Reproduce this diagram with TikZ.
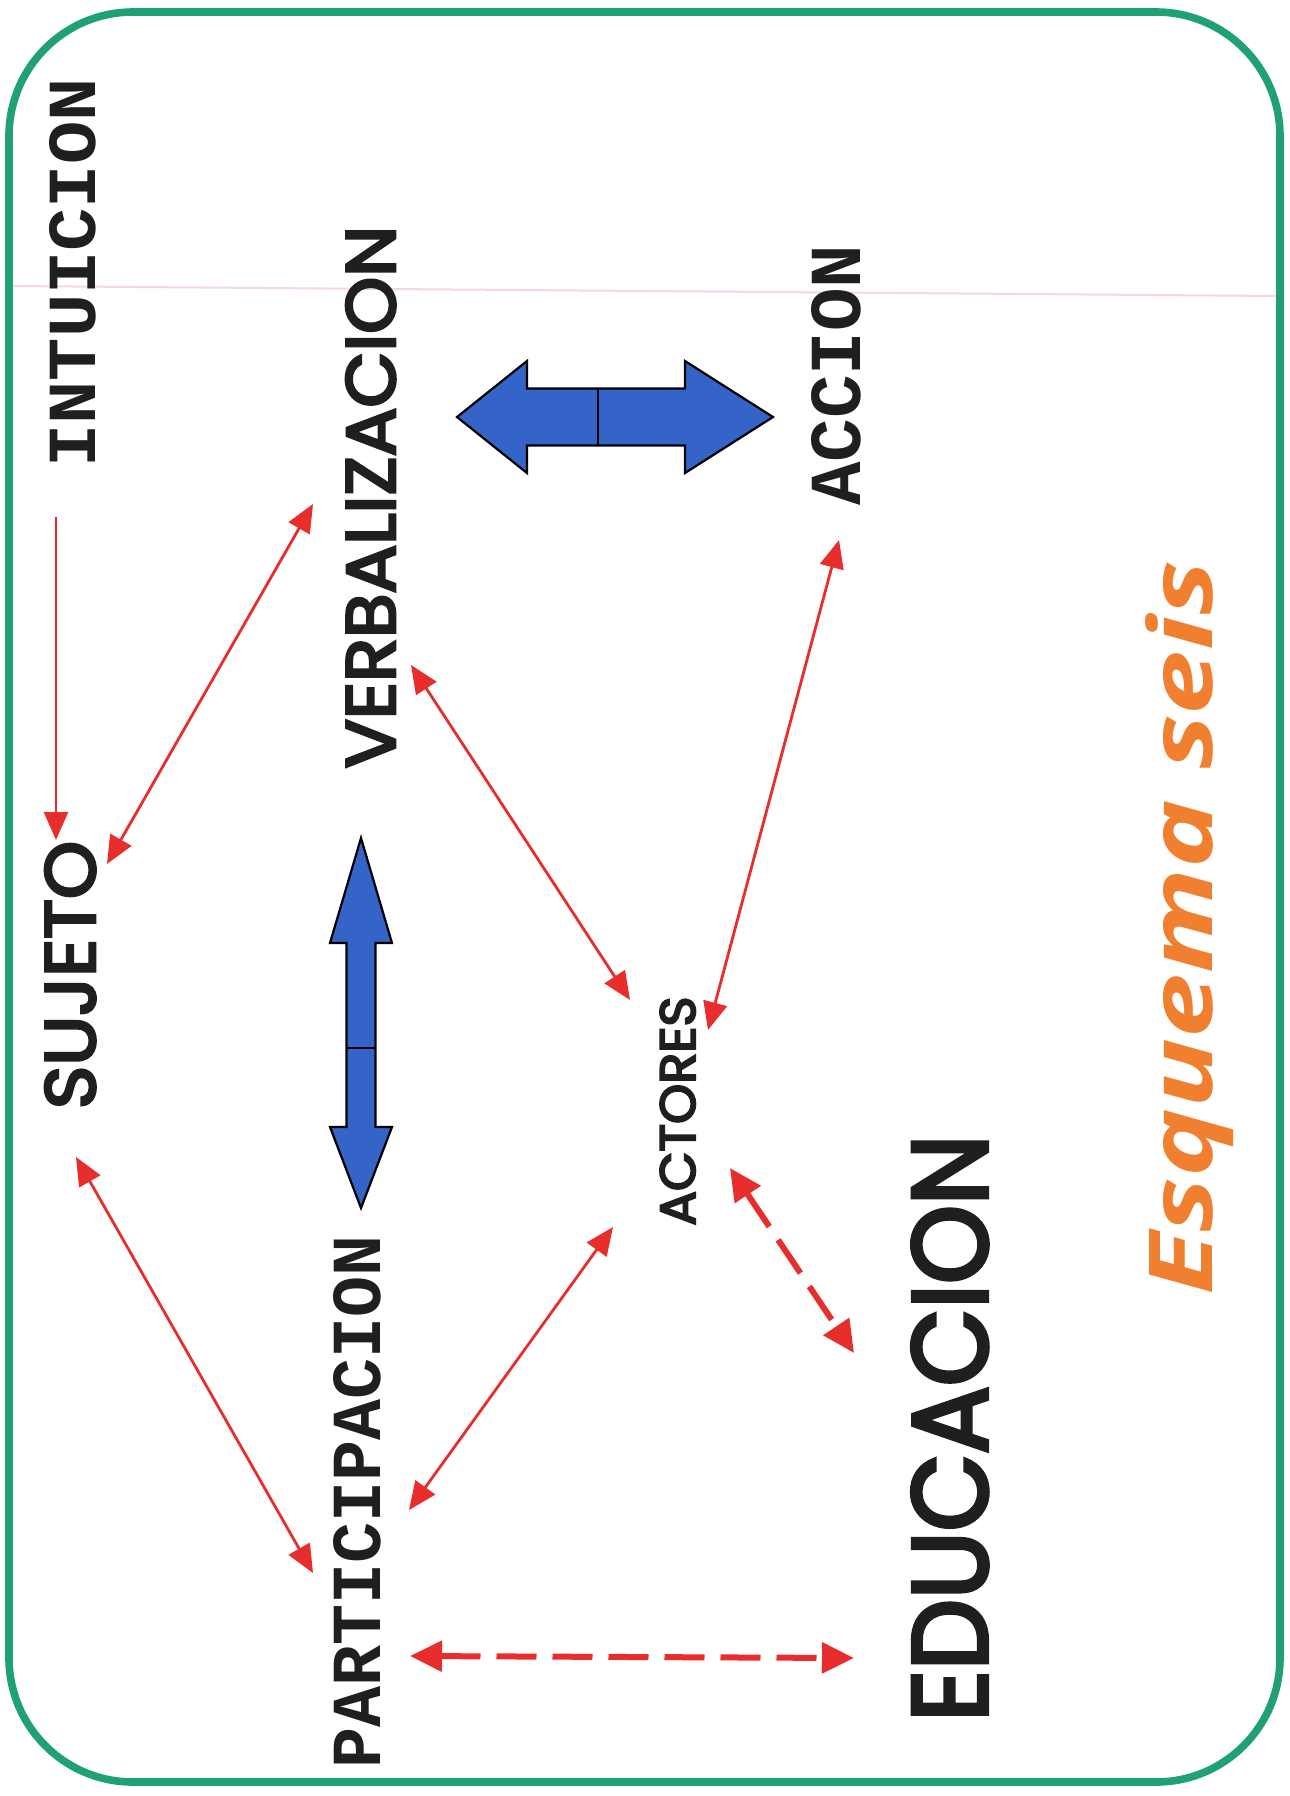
\documentclass[tikz,border=0pt]{standalone}
\usepackage{fontspec}
\usepackage{graphicx}
\usetikzlibrary{arrows.meta}
\newfontfamily\monofam{Liberation Mono}
\newfontfamily\gothfam{Poppins}[FakeBold=4]
\newfontfamily\titlefam{Open Sans}
\definecolor{frame}{RGB}{32,160,118}
\definecolor{redline}{RGB}{232,45,45}
\definecolor{bluearrow}{RGB}{52,100,200}
\definecolor{orangetxt}{RGB}{240,128,48}
\definecolor{scanpink}{RGB}{245,215,222}
\tikzset{
  lbl/.style={rotate=90,anchor=base,inner sep=0pt,text=black!88},
  rel/.style={draw=redline,line width=1.4pt,-{Triangle[length=14pt,width=12pt]}},
  relboth/.style={draw=redline,line width=1.4pt,{Triangle[length=14pt,width=12pt]}-{Triangle[length=14pt,width=12pt]}},
  reldash/.style={draw=redline,line width=3pt,dash pattern=on 20pt off 8pt,{Triangle[length=16pt,width=15pt]}-{Triangle[length=16pt,width=15pt]}},
  bigarrow/.style={fill=bluearrow,draw=black,line width=1.1pt,line join=miter}
}
\begin{document}
\begin{tikzpicture}[x=0.5pt,y=-0.5pt]
\useasboundingbox (0,0) rectangle (1290,1796);
\fill[white] (0,0) rectangle (1290,1796);
% faint scan line
\draw[scanpink,line width=1pt] (10,286) -- (1278,296);
% frame
\draw[frame,line width=3.8pt,rounded corners=62pt] (9,12) rectangle (1280,1782);

% labels
\node[lbl] (intu) at (95,273) {\resizebox{194.5pt}{23pt}{\monofam\bfseries INTUICION}};
\node[lbl] (verb) at (395,497) {\resizebox{271pt}{24.5pt}{\gothfam VERBALIZACION}};
\node[lbl] (acci) at (860,375) {\resizebox{130.5pt}{24.5pt}{\monofam\bfseries ACCION}};
\node[lbl] (suje) at (95,975) {\resizebox{134pt}{25pt}{\gothfam SUJETO}};
\node[lbl] (acto) at (695,1111) {\resizebox{114.5pt}{17.5pt}{\gothfam ACTORES}};
\node[lbl] (part) at (380,1502) {\resizebox{266.5pt}{23.5pt}{\monofam\bfseries PARTICIPACION}};
\node[lbl] (educ) at (987,1428) {\resizebox{293.5pt}{37.5pt}{\gothfam EDUCACION}};
\node[lbl,text=orangetxt] (titl) at (1212,928) {\resizebox{367pt}{33.5pt}{\titlefam\bfseries\itshape Esquema seis}};

% blue double arrows
\draw[bigarrow] (457,417) -- (527,361) -- (527,388.5) -- (685,388.5) -- (685,361) -- (773,417)
  -- (685,473) -- (685,445.5) -- (527,445.5) -- (527,473) -- cycle;
\draw[black,line width=1.1pt] (598,388.5) -- (598,445.5);
\draw[bigarrow] (361,838) -- (392,943) -- (375.5,943) -- (375.5,1127) -- (392,1127) -- (361,1208)
  -- (330,1127) -- (346.5,1127) -- (346.5,943) -- (330,943) -- cycle;
\draw[black,line width=1.1pt] (346.5,1048) -- (375.5,1048);

% connector end points
\coordinate (intuS) at (56,517);
\coordinate (sujeN) at (56,840);
\coordinate (sujeV) at (107,864);
\coordinate (verbS) at (313,504);
\coordinate (verbA) at (411,665);
\coordinate (actoV) at (630,1000);
\coordinate (acciA) at (839,540);
\coordinate (actoC) at (708,1030);
\coordinate (sujeP) at (76,1157);
\coordinate (partS) at (313,1573);
\coordinate (partA) at (409,1510);
\coordinate (actoP) at (613,1227);
\coordinate (actoE) at (730,1168);
\coordinate (educA) at (854,1353);
\coordinate (partE) at (410,1656);
\coordinate (educP) at (854,1658);

% red connectors
\draw[rel] (intuS) -- (sujeN);
\draw[relboth] (sujeV) -- (verbS);
\draw[relboth] (verbA) -- (actoV);
\draw[relboth] (acciA) -- (actoC);
\draw[relboth] (sujeP) -- (partS);
\draw[relboth] (partA) -- (actoP);
\draw[reldash] (actoE) -- (educA);
\draw[reldash] (partE) -- (educP);
\end{tikzpicture}
\end{document}
